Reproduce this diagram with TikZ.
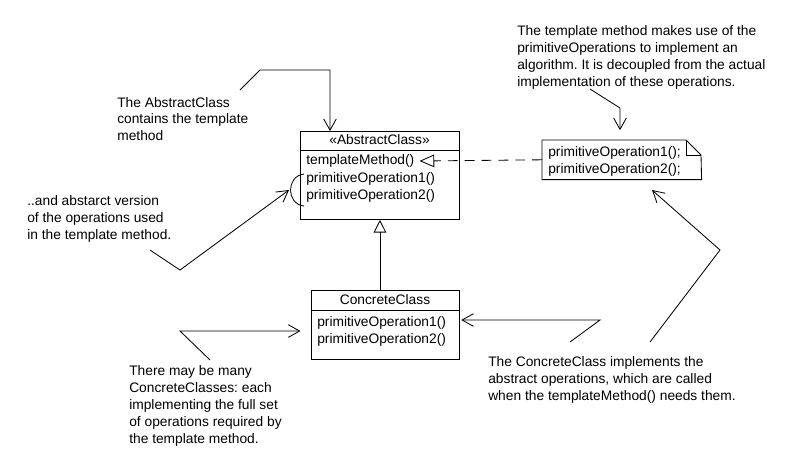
\documentclass[tikz,border=0pt]{standalone}
\usepackage{fontspec}
\setmainfont{Liberation Sans}
\usetikzlibrary{arrows.meta}
\frenchspacing

\tikzset{
    umltext/.style={font=\fontsize{9.8pt}{12pt}\selectfont, inner sep=0pt, align=left},
    classbox/.style={draw, line width=0.6pt, inner sep=0pt},
    callout/.style={line width=0.6pt, -{Straight Barb[length=8pt,width=9pt]}},
    realize/.style={line width=0.6pt, dash pattern=on 7pt off 5pt, -{Triangle[open,length=10.5pt,width=9pt]}},
    inherit/.style={line width=0.6pt, -{Triangle[open,length=9pt,width=9pt]}}
}

\begin{document}
\begin{tikzpicture}[x=0.025cm, y=-0.025cm]
    \definecolor{paperColour}{HTML}{FFFFFF}

    \fill[paperColour] (0,0) rectangle (800,470);
    \useasboundingbox (0,0) rectangle (800,470);

    % Abstract class
    \node[classbox, anchor=north west, minimum width=3.975cm, minimum height=2.2cm] (abstract) at (300,131) {};
    \draw[line width=0.6pt] (abstract.north west) ++(0,19) -- ++(159,0);
    \node[umltext] (abstractName) at (379.5,140) {«AbstractClass»};
    \node[umltext, anchor=west] (tm) at (306,161) {templateMethod()};
    \node[umltext, anchor=west] (abstractOps) at (306,187) {primitiveOperation1()\\primitiveOperation2()};

    % Bracket round the primitive operations
    \coordinate (bracket) at (289,190);
    \draw[line width=0.6pt] (304,174) .. controls (286,176) and (286,204) .. (304,206);

    % Concrete class
    \node[classbox, anchor=north west, minimum width=3.7cm, minimum height=1.725cm] (concrete) at (311,290) {};
    \draw[line width=0.6pt] (concrete.north west) ++(0,20) -- ++(148,0);
    \node[umltext] (concreteName) at (385,300) {ConcreteClass};
    \node[umltext, anchor=west] (concreteOps) at (317,331) {primitiveOperation1()\\primitiveOperation2()};

    % Note with folded corner
    \node[inner sep=0pt, anchor=north west, minimum width=3.975cm, minimum height=0.975cm] (note) at (542,140) {};
    \draw[line width=0.6pt] (note.north west) -- ++(144,0) -- ++(15,15) -- (note.south east) -- (note.south west) -- cycle;
    \draw[line width=0.6pt] (note.north west) ++(144,0) -- ++(0,15) -- ++(15,0);
    \node[umltext, anchor=west] (noteText) at (548,161.5) {primitiveOperation1();\\primitiveOperation2();};

    % Realization and inheritance
    \draw[realize] (note.west) -- ([xshift=3.5pt]tm.east);
    \draw[inherit] (abstract.south |- concrete.north) -- (abstract.south);

    % Comments
    \node[umltext, anchor=west] (abstractNote) at (117,119) {The AbstractClass\\contains the template\\method};
    \node[umltext, anchor=west] (opsNote) at (27,219) {..and abstarct version\\of the operations used\\in the template method.};
    \node[umltext, anchor=west] (tmNote) at (517,57.5) {The template method makes use of the\\primitiveOperations to implement an\\algorithm. It is decoupled from the actual\\implementation of these operations.};
    \node[umltext, anchor=west] (manyNote) at (129,406) {There may be many\\ConcreteClasses: each\\implementing the full set\\of operations required by\\the template method.};
    \node[umltext, anchor=west] (implNote) at (488,380) {The ConcreteClass implements the\\abstract operations, which are called\\when the templateMethod() needs them.};

    % Callout lines
    \coordinate (abstractA) at (240,90);
    \coordinate (abstractB) at (260,70);
    \coordinate (abstractC) at (330,70);
    \draw[callout] (abstractA) -- (abstractB) -- (abstractC) -- (abstractC |- abstract.north);

    \coordinate (opsA) at (150,250);
    \coordinate (opsB) at (180,270);
    \draw[callout] (opsA) -- (opsB) -- (bracket);

    \coordinate (tmA) at (590,89);
    \coordinate (tmB) at (620,108);
    \draw[callout, shorten >=7pt] (tmA) -- (tmB) -- (tmB |- note.north);

    \coordinate (manyA) at (210,360);
    \coordinate (manyB) at (180,331);
    \draw[callout, shorten >=7.5pt] (manyA) -- (manyB) -- (manyB -| concrete.west);

    \coordinate (implA) at (570,342);
    \coordinate (implB) at (600,320);
    \draw[callout, shorten >=1pt] (implA) -- (implB) -- (implB -| concrete.east);

    \coordinate (callA) at (650,342);
    \coordinate (callB) at (720,250);
    \coordinate (callC) at (652,190);
    \draw[callout] (callA) -- (callB) -- (callC);

\end{tikzpicture}
\end{document}
